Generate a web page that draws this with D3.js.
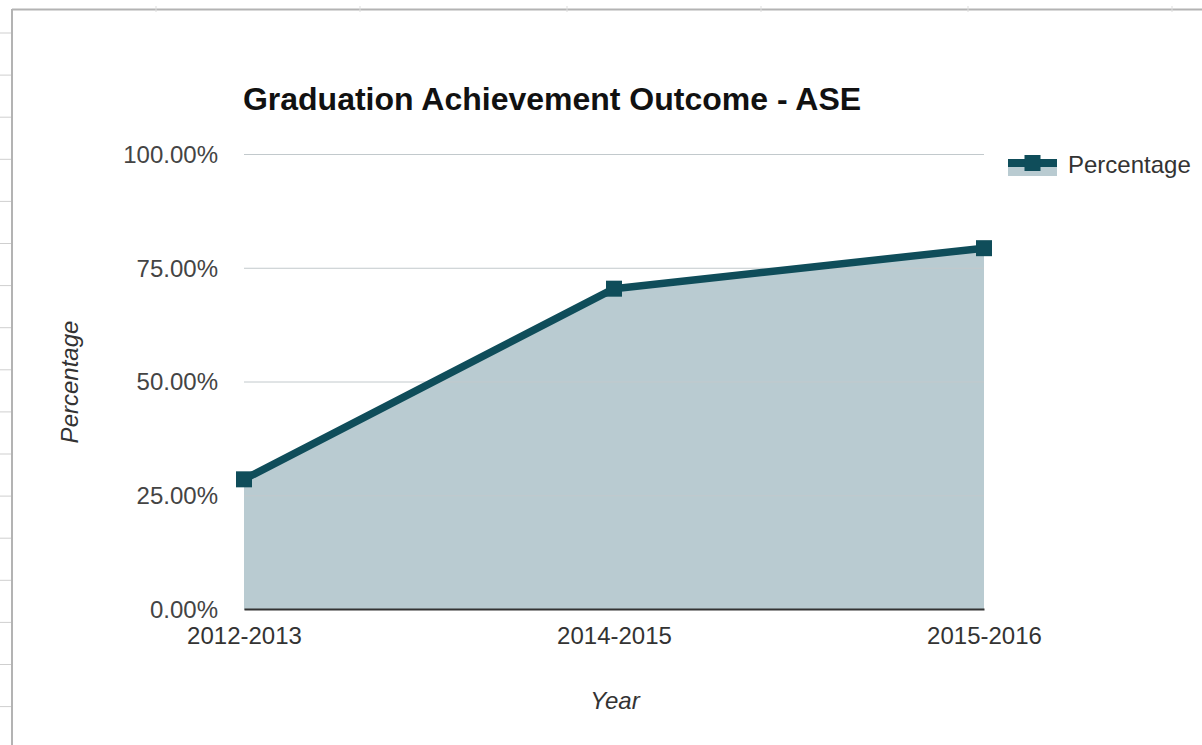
<!DOCTYPE html>
<html>
<head>
<meta charset="utf-8">
<script src="https://cdn.jsdelivr.net/npm/d3@7"></script>
<style>
  html, body { margin: 0; padding: 0; background: #fff; }
  svg { display: block; font-family: "Liberation Sans", Arial, sans-serif; }
</style>
</head>
<body>
<svg id="chart" width="1202" height="745"></svg>
<script>
// Graduation outcome data
const years = ["2012-2013", "2014-2015", "2015-2016"];
const percentages = [28.5, 70.4, 79.3];
const yTicks = [0, 25, 50, 75, 100];
const seriesName = "Percentage";
const chartTitle = "Graduation Achievement Outcome - ASE";

const lineColor = "#0f4d5a";
const fillColor = "#b9cbd1";
const FONT = "Liberation Sans, Arial, sans-serif";

const svg = d3.select("#chart");
const W = 1202, H = 745;
const plot = { left: 244, right: 984, top: 154, bottom: 609 };

// Surrounding sheet frame with ruler marks
const frame = svg.append("g");
frame.append("line").attr("x1", 12).attr("x2", W).attr("y1", 9.5).attr("y2", 9.5)
  .attr("stroke", "#b3b3b3").attr("stroke-width", 2);
frame.append("line").attr("x1", 12).attr("x2", 12).attr("y1", 9).attr("y2", H)
  .attr("stroke", "#b3b3b3").attr("stroke-width", 2);
d3.range(17).forEach(i => {
  const y = 33 + i * 42.1;
  frame.append("line").attr("x1", 0).attr("x2", 11).attr("y1", y).attr("y2", y)
    .attr("stroke", "#cfcfcf").attr("stroke-width", 1);
});
[156, 360, 567, 761, 968, 1172].forEach(x => {
  frame.append("line").attr("x1", x).attr("x2", x).attr("y1", 6).attr("y2", 12)
    .attr("stroke", "#dddddd").attr("stroke-width", 1);
});

const x = d3.scalePoint().domain(years).range([plot.left, plot.right]);
const y = d3.scaleLinear().domain([0, 100]).range([plot.bottom, plot.top]);

// Title
svg.append("text")
  .attr("x", 552).attr("y", 110)
  .attr("text-anchor", "middle")
  .attr("font-size", 32).attr("font-weight", "bold").attr("fill", "#111")
  .text(chartTitle);

// Area under the line
const area = d3.area()
  .x((d, i) => x(years[i]))
  .y0(y(0))
  .y1(d => y(d));
svg.append("path").datum(percentages)
  .attr("d", area).attr("fill", fillColor);

// Gridlines and percentage labels
const yAxis = d3.axisLeft(y).tickValues(yTicks)
  .tickSize(-(plot.right - plot.left))
  .tickFormat(d => d.toFixed(2) + "%");
const gy = svg.append("g").attr("transform", `translate(${plot.left},0)`).call(yAxis);
gy.select(".domain").remove();
gy.selectAll(".tick line").attr("stroke", "#c2c9cc").attr("stroke-width", 1);
gy.selectAll(".tick text")
  .attr("x", -26).attr("dy", "0.35em")
  .attr("font-size", 24).attr("fill", "#444")
  .style("font-family", FONT);

// Baseline axis
const xAxis = d3.axisBottom(x).tickSize(0).tickPadding(18);
const gx = svg.append("g").attr("transform", `translate(0,${plot.bottom})`).call(xAxis);
gx.select(".domain").attr("stroke", "#333").attr("stroke-width", 2);
gx.selectAll(".tick text")
  .attr("font-size", 24).attr("fill", "#333")
  .style("font-family", FONT);

// Line and markers
const line = d3.line().x((d, i) => x(years[i])).y(d => y(d));
svg.append("path").datum(percentages)
  .attr("d", line).attr("fill", "none")
  .attr("stroke", lineColor).attr("stroke-width", 7.5)
  .attr("stroke-linejoin", "round");
svg.selectAll("rect.marker").data(percentages).enter().append("rect")
  .attr("class", "marker")
  .attr("x", (d, i) => x(years[i]) - 8)
  .attr("y", d => y(d) - 8)
  .attr("width", 16).attr("height", 16)
  .attr("fill", lineColor);

// Axis titles
svg.append("text")
  .attr("x", 615).attr("y", 709)
  .attr("text-anchor", "middle")
  .attr("font-size", 24).attr("font-style", "italic").attr("fill", "#333")
  .text("Year");
svg.append("text")
  .attr("transform", "translate(78,382) rotate(-90)")
  .attr("text-anchor", "middle")
  .attr("font-size", 24).attr("font-style", "italic").attr("fill", "#333")
  .text(seriesName);

// Legend
const lg = svg.append("g").attr("transform", "translate(1008,163)");
lg.append("rect").attr("x", 0).attr("y", 0).attr("width", 49).attr("height", 13)
  .attr("fill", fillColor);
lg.append("line").attr("x1", 0).attr("x2", 49).attr("y1", 0).attr("y2", 0)
  .attr("stroke", lineColor).attr("stroke-width", 8);
lg.append("rect").attr("x", 16.5).attr("y", -8).attr("width", 16).attr("height", 16)
  .attr("fill", lineColor);
lg.append("text").attr("x", 60).attr("y", 2).attr("dy", "0.35em")
  .attr("font-size", 24).attr("fill", "#333")
  .text(seriesName);
</script>
</body>
</html>
